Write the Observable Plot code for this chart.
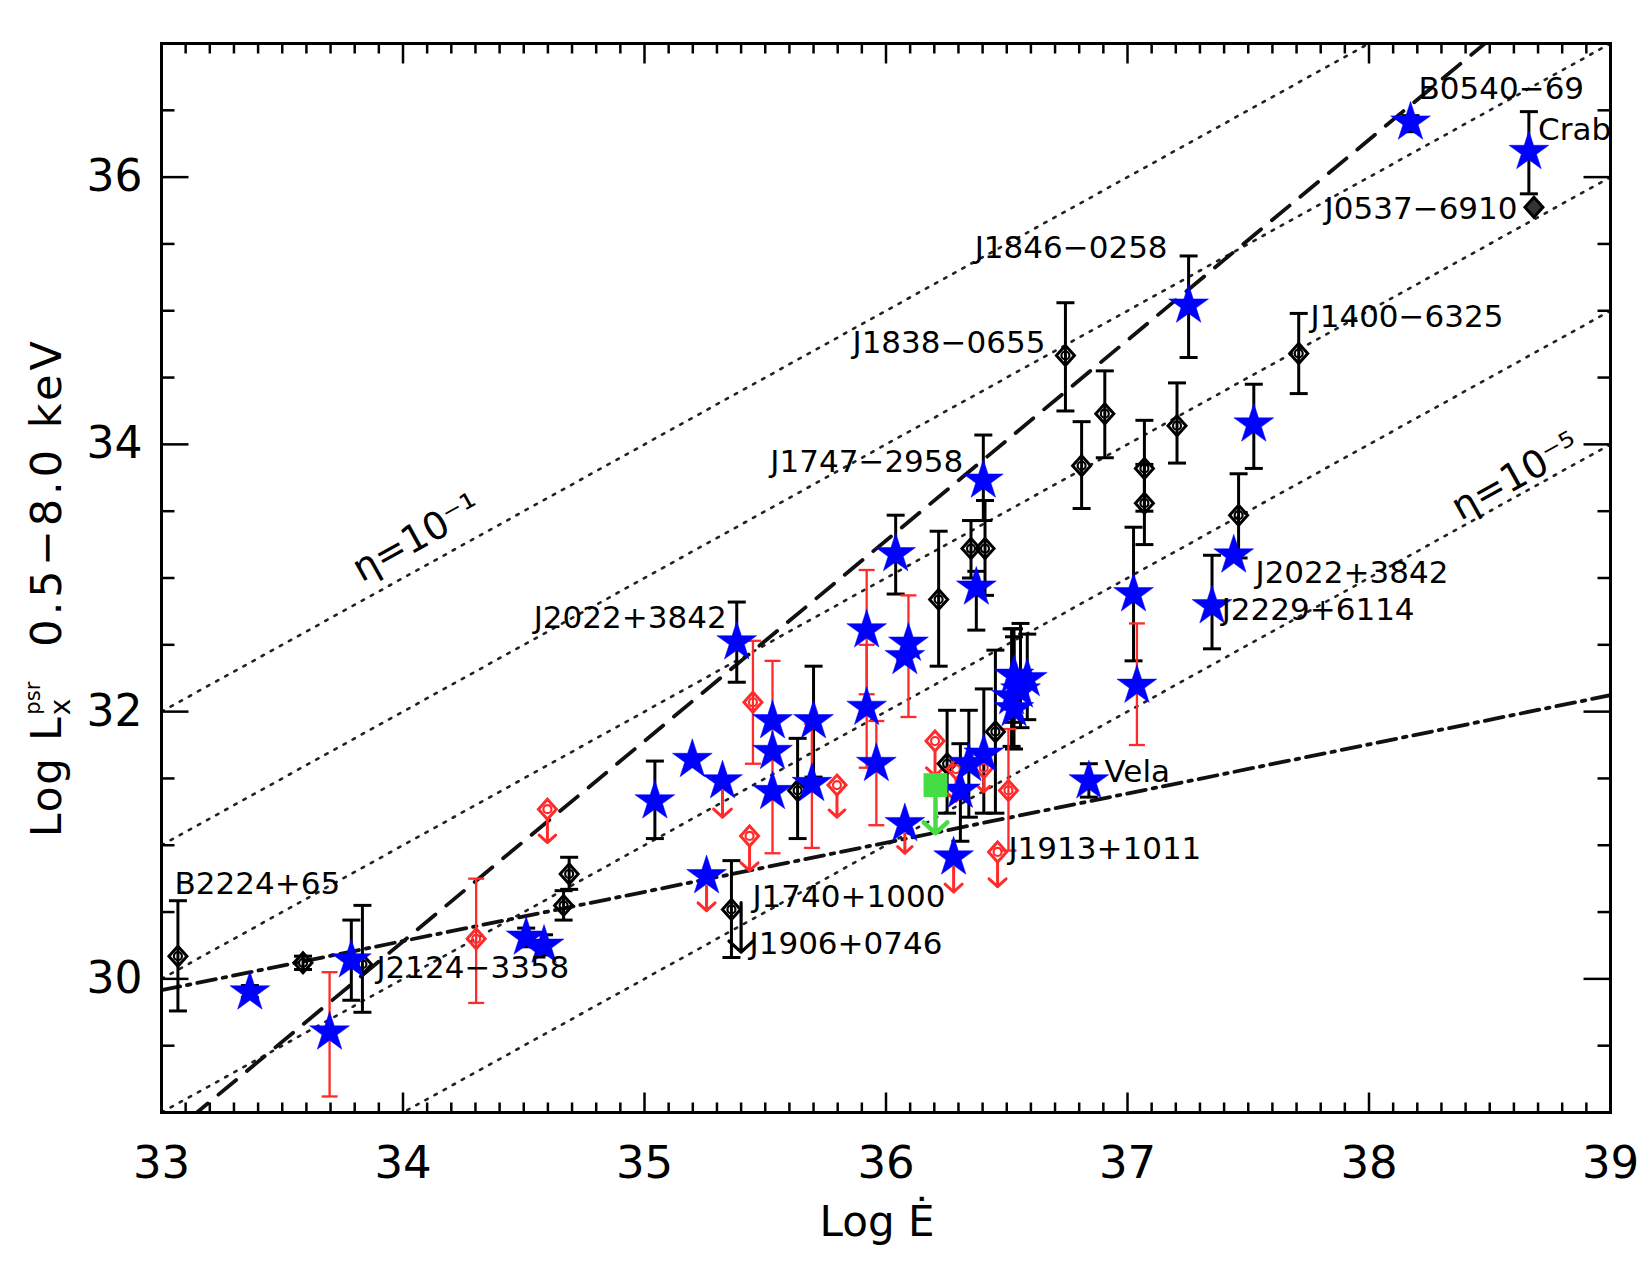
<!DOCTYPE html>
<html><head><meta charset="utf-8">
<script src="https://cdn.jsdelivr.net/npm/d3@7"></script>
<script src="https://cdn.jsdelivr.net/npm/@observablehq/plot@0.6"></script>
<style>body{margin:0;background:#fff;} svg{display:block;}</style>
</head><body><div id="chart"></div>
<script>
// ---------------- data (Log Edot, Log Lx, lower, upper) ----------------
const starsBlackBar = [
  [33.366, 29.90, 29.86, 29.95], [33.786, 30.14, 29.84, 30.44], [34.51, 30.31, 30.24, 30.38],
  [34.584, 30.25, 30.18, 30.33], [35.043, 31.33, 31.05, 31.63], [35.382, 32.52, 32.22, 32.82],
  [35.70, 31.93, 31.51, 32.34], [36.04, 33.18, 32.88, 33.47], [36.374, 32.93, 32.61, 33.05],
  [36.403, 33.73, 33.43, 34.07], [36.308, 31.41, 31.03, 31.76], [36.343, 31.61, 31.21, 32.01],
  [36.405, 31.68, 31.24, 32.17], [36.53, 32.27, 31.92, 32.62], [36.585, 32.245, 31.94, 32.58],
  [36.52, 32.11, 31.74, 32.62], [36.53, 32.02, 31.72, 32.56], [36.557, 32.16, 31.88, 32.66],
  [36.84, 31.48, 31.36, 31.61], [37.025, 32.88, 32.38, 33.38], [37.253, 35.04, 34.65, 35.41],
  [37.35, 32.79, 32.47, 33.17], [37.523, 34.15, 33.82, 34.45], [38.172, 36.41, 36.34, 36.46],
  [38.662, 36.19, 35.875, 36.49]
];
const starsRedBar = [
  [33.696, 29.60, 29.12, 30.05], [35.53, 31.70, 30.94, 32.38], [35.693, 31.46, 30.98, 31.91],
  [35.92, 32.61, 32.13, 33.06], [35.92, 32.03, 31.58, 32.50], [35.96, 31.61, 31.15, 31.93],
  [36.093, 32.51, 31.96, 32.87], [37.039, 32.195, 31.75, 32.66]
];
const starsNoBar = [[35.198, 31.64], [35.53, 31.93], [35.53, 31.40], [36.078, 32.41], [37.44, 33.17]];
const starsLimit = [[35.257, 30.77, 30.51], [35.323, 31.48, 31.21], [36.078, 31.16, 30.94], [36.28, 30.91, 30.65]];

const diamondsBlackBar = [
  [33.068, 30.17, 29.76, 30.585], [33.586, 30.12, 30.07, 30.17], [33.832, 30.11, 29.75, 30.55],
  [34.665, 30.55, 30.44, 30.66], [34.688, 30.785, 30.67, 30.91], [35.36, 30.52, 30.16, 30.885],
  [35.634, 31.41, 31.05, 31.80], [36.218, 32.84, 32.34, 33.35], [36.352, 33.22, 33.00, 33.43],
  [36.41, 33.22, 32.87, 33.58], [36.253, 31.61, 31.24, 32.01], [36.453, 31.85, 31.24, 32.46],
  [36.743, 34.665, 34.25, 35.06], [36.81, 33.84, 33.52, 34.17], [36.906, 34.23, 33.90, 34.55],
  [37.07, 33.82, 33.50, 34.18], [37.07, 33.56, 33.25, 33.85], [37.205, 34.14, 33.86, 34.46],
  [37.46, 33.47, 33.15, 33.78], [37.709, 34.68, 34.38, 34.98]
];
const diamondsBlackNoBar = [[38.683, 35.775]];
const blackLimit = [[35.40, 30.57, 30.20]];

const diamondsRedBar = [[34.303, 30.30, 29.82, 30.75], [35.449, 32.07, 31.61, 32.53], [36.507, 31.41, 30.96, 31.87]];
const diamondsRedLimit = [
  [34.598, 31.27, 31.02], [35.435, 31.07, 30.81], [35.797, 31.45, 31.21], [36.203, 31.78, 31.52],
  [36.462, 30.95, 30.69], [36.29, 31.57, 31.33], [36.405, 31.58, 31.40]
];
const greenLimit = [[36.205, 31.45, 31.09]];

// model lines
const etaExponents = [-1, -2, -3, -4, -5];         // Lx = eta * Edot
const dashedLine = {slope: 1.5, intercept: -20.72};
const dashDotLine = {slope: 0.368, intercept: 29.915 - 0.368 * 33};

// labels [text, x, y]
const labelsStart = [
  ["B2224+65", 33.054, 30.71], ["J2124\u22123358", 33.89, 30.08], ["B0540\u221269", 38.205, 36.66],
  ["Crab", 38.70, 36.35], ["J1400\u22126325", 37.758, 34.95], ["J2022+3842", 37.53, 33.04],
  ["J2229+6114", 37.39, 32.76], ["Vela", 36.905, 31.55], ["J1913+1011", 36.507, 30.975],
  ["J1740+1000", 35.447, 30.615], ["J1906+0746", 35.435, 30.263]
];
const labelsEnd = [
  ["J2022+3842", 35.34, 32.70], ["J1747\u22122958", 36.32, 33.87], ["J1838\u22120655", 36.66, 34.755],
  ["J1846\u22120258", 37.166, 35.47], ["J0537\u22126910", 38.615, 35.76]
];
const etaLabels = [["\u03B7=10\u207B\u00B9", 34.056, 33.30], ["\u03B7=10\u207B\u2075", 38.607, 33.76]];

const xMajor = [33, 34, 35, 36, 37, 38, 39];
const yMajor = [30, 32, 34, 36];

// ---------------- helpers ----------------
const xDomain = [33, 39];
const xMinor = d3.range(331, 390).filter(d => d % 10 !== 0).map(d => d / 10);
const yMinor = d3.range(58, 75).map(d => d / 2).filter(d => d % 2 !== 0);
const etaPts = etaExponents.flatMap(e => xDomain.map(x => ({e, x, y: x + e})));
const dashPts = xDomain.map(x => ({x, y: dashedLine.slope * x + dashedLine.intercept}));
const dashDotPts = xDomain.map(x => ({x, y: dashDotLine.slope * x + dashDotLine.intercept}));

const seg = (x0, y0, x1, y1) => ({draw(ctx) { ctx.moveTo(x0, y0); ctx.lineTo(x1, y1); }});
const cap = w => seg(-w, 0, w, 0);
const diamondSym = {draw(ctx) { ctx.moveTo(0, -10); ctx.lineTo(9, 0); ctx.lineTo(0, 10); ctx.lineTo(-9, 0); ctx.closePath(); }};
const innerCircle = {draw(ctx) { ctx.moveTo(4, 0); ctx.arc(0, 0, 4, 0, 2 * Math.PI); }};

const BLUE = "#0000ff", RED = "#ff2a2a", GREEN = "#44dd44";

function bars(data, color, w, capW) {
  return [
    Plot.ruleX(data, {x: d => d[0], y1: d => d[2], y2: d => d[3], stroke: color, strokeWidth: w}),
    Plot.dot(data, {x: d => d[0], y: d => d[2], symbol: cap(capW), stroke: color, strokeWidth: w, fill: "none"}),
    Plot.dot(data, {x: d => d[0], y: d => d[3], symbol: cap(capW), stroke: color, strokeWidth: w, fill: "none"})
  ];
}
function limits(data, color, w, inset, head) {
  return Plot.arrow(data, {x1: d => d[0], y1: d => d[1], x2: d => d[0], y2: d => d[2],
    stroke: color, strokeWidth: w, headAngle: 95, headLength: head, insetStart: inset});
}
function diamonds(data, color) {
  return [
    Plot.dot(data, {x: d => d[0], y: d => d[1], symbol: diamondSym, stroke: color, strokeWidth: 3, fill: "none"}),
    Plot.dot(data, {x: d => d[0], y: d => d[1], symbol: innerCircle, stroke: color, strokeWidth: 2.2, fill: "none"})
  ];
}
const stars = data => Plot.dot(data, {x: d => d[0], y: d => d[1], symbol: "star", r: 12.5, fill: BLUE, stroke: BLUE, strokeWidth: 0.5});

const chart = Plot.plot({
  width: 1650, height: 1275,
  marginLeft: 161, marginRight: 40, marginTop: 43, marginBottom: 163,
  x: {domain: xDomain},
  y: {domain: [29, 37]},
  style: {fontFamily: "DejaVu Sans", background: "white", color: "black"},
  marks: [
    // model lines
    Plot.line(etaPts, {x: "x", y: "y", z: "e", stroke: "#222", strokeWidth: 2.6, strokeDasharray: "2.6,7.8", clip: true}),
    Plot.line(dashPts, {x: "x", y: "y", stroke: "#111", strokeWidth: 3.8, strokeDasharray: "23,14", clip: true}),
    Plot.line(dashDotPts, {x: "x", y: "y", stroke: "#111", strokeWidth: 3.8, strokeDasharray: "19,7,3.5,7", clip: true}),
    // error bars
    ...bars(diamondsBlackBar, "black", 3, 9),
    ...bars(starsBlackBar, "black", 3, 9),
    ...bars(starsRedBar, RED, 2.3, 8),
    ...bars(diamondsRedBar, RED, 2.3, 8),
    // upper limits
    limits(diamondsRedLimit, RED, 3, 10, 12),
    limits(starsLimit, RED, 3, 10, 12),
    limits(blackLimit, "black", 3.2, 0, 14),
    limits(greenLimit, GREEN, 4.5, 12, 15),
    // markers
    ...diamonds(diamondsBlackBar, "black"),
    ...diamonds(diamondsRedBar, RED),
    ...diamonds(diamondsRedLimit, RED),
    Plot.dot(diamondsBlackNoBar, {x: d => d[0], y: d => d[1], symbol: diamondSym, stroke: "black", strokeWidth: 3, fill: "#333"}),
    stars(starsBlackBar), stars(starsRedBar), stars(starsNoBar), stars(starsLimit),
    Plot.dot(greenLimit, {x: d => d[0], y: d => d[1], symbol: "square", r: 13.5, fill: GREEN}),
    // labels
    Plot.text(labelsStart, {x: d => d[1], y: d => d[2], text: d => d[0], textAnchor: "start", fontSize: 31, fill: "black", letterSpacing: 1.6}),
    Plot.text(labelsEnd, {x: d => d[1], y: d => d[2], text: d => d[0], textAnchor: "end", fontSize: 31, fill: "black", letterSpacing: 1.6}),
    Plot.text(etaLabels, {x: d => d[1], y: d => d[2], text: d => d[0], rotate: -29, fontSize: 38, fill: "black"}),
    // frame & inward ticks
    Plot.frame({stroke: "black", strokeWidth: 3}),
    Plot.dot(xMajor, {x: d => d, frameAnchor: "bottom", symbol: seg(0, 0, 0, -20), stroke: "black", strokeWidth: 2.5}),
    Plot.dot(xMinor, {x: d => d, frameAnchor: "bottom", symbol: seg(0, 0, 0, -10), stroke: "black", strokeWidth: 2.5}),
    Plot.dot(xMajor, {x: d => d, frameAnchor: "top", symbol: seg(0, 0, 0, 20), stroke: "black", strokeWidth: 2.5}),
    Plot.dot(xMinor, {x: d => d, frameAnchor: "top", symbol: seg(0, 0, 0, 10), stroke: "black", strokeWidth: 2.5}),
    Plot.dot(yMajor, {y: d => d, frameAnchor: "left", symbol: seg(0, 0, 27, 0), stroke: "black", strokeWidth: 2.5}),
    Plot.dot(yMinor, {y: d => d, frameAnchor: "left", symbol: seg(0, 0, 13, 0), stroke: "black", strokeWidth: 2.5}),
    Plot.dot(yMajor, {y: d => d, frameAnchor: "right", symbol: seg(0, 0, -27, 0), stroke: "black", strokeWidth: 2.5}),
    Plot.dot(yMinor, {y: d => d, frameAnchor: "right", symbol: seg(0, 0, -13, 0), stroke: "black", strokeWidth: 2.5}),
    // tick labels
    Plot.axisX(xMajor, {anchor: "bottom", tickSize: 0, tickPadding: 34, fontSize: 45, label: null, tickFormat: d => d}),
    Plot.axisY(yMajor, {anchor: "left", tickSize: 0, tickPadding: 19, fontSize: 44, label: null, tickFormat: d => d})
  ]
});

const svg = d3.select(chart);
// x title
svg.append("text").attr("x", 877).attr("y", 1236).attr("text-anchor", "middle")
  .attr("font-family", "DejaVu Sans").attr("font-size", 42).attr("fill", "black").text("Log \u0116");
// y title
const yt = svg.append("text").attr("transform", "translate(61,837) rotate(-90)").attr("text-anchor", "start")
  .attr("font-family", "DejaVu Sans").attr("font-size", 42).attr("fill", "black").attr("letter-spacing", 2);
yt.append("tspan").text("Log L");
yt.append("tspan").attr("font-size", 28).attr("dy", 9).text("x");
yt.append("tspan").attr("font-size", 21).attr("dx", -18).attr("dy", -30).attr("letter-spacing", 0).text("psr");
svg.append("text").attr("transform", "translate(61,337) rotate(-90)").attr("text-anchor", "end")
  .attr("font-family", "DejaVu Sans").attr("font-size", 43).attr("fill", "black").attr("letter-spacing", 4)
  .text("0.5\u22128.0 keV");

document.getElementById("chart").append(chart);
</script>
</body></html>
